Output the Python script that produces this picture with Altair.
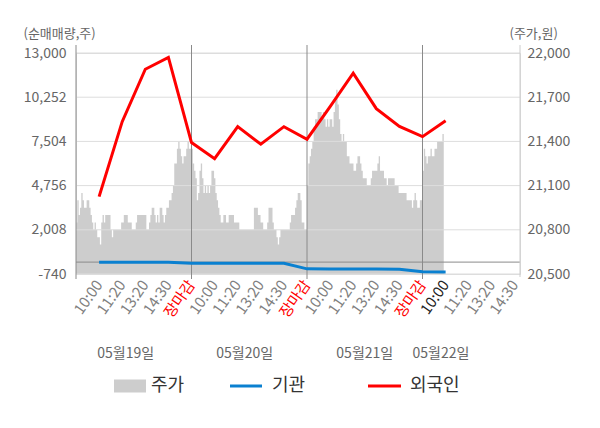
import altair as alt
import pandas as pd

# ---------------- data ----------------
TICK_LABELS = ["10:00", "11:20", "13:20", "14:30", "장마감"]
N_TICKS = 19
CURRENT_TICK = 16
DATES = ["05월19일", "05월20일", "05월21일", "05월22일"]
DATE_POS = [2.15, 7.3, 12.5, 15.8]
LEFT_TICKS = [-740, 2008, 4756, 7504, 10252, 13000]
RIGHT_TICKS = [20500, 20800, 21100, 21400, 21700, 22000]
DAY_BOUNDS = [0, 5, 10, 15]
LEGEND_LABELS = ["주가", "기관", "외국인"]

# 외국인 / 기관 net volume at each tick (10:00 ... 장마감 per day)
FOREIGN = [4070, 8730, 11990, 12730, 7430, 6430, 8420, 7330, 8420, 7640,
           9660, 11740, 9540, 8440, 7800, 8790]
INSTITUTION = [-10, -10, -10, -10, -75, -75, -75, -75, -75, -420,
               -430, -430, -430, -440, -600, -610]

# 주가 intraday samples per day
PRICE_D1 = [20850, 21000, 20900, 20950, 21050, 21000, 20950, 20950, 21000, 21000,
            20950, 20900, 20850, 20800, 20850, 20800, 20750, 20750, 20700, 20850,
            20900, 20850, 20900, 20900, 20900, 20900, 20800, 20750, 20800, 20800,
            20800, 20800, 20800, 20800, 20850, 20850, 20900, 20900, 20900, 20850,
            20850, 20850, 20800, 20800, 20800, 20850, 20900, 20900, 20900, 20900,
            20900, 20900, 20900, 20800, 20800, 20850, 20900, 20950, 20950, 20900,
            20850, 20900, 20850, 20950, 20950, 20900, 20850, 20900, 20950, 20950,
            21000, 21000, 21050, 21100, 21250, 21250, 21350, 21400, 21350, 21300,
            21250, 21300, 21300, 21350, 21400, 21350]
PRICE_D2 = [21350, 21250, 21200, 21150, 21000, 21050, 21200, 21250, 21150, 21050,
            21100, 21050, 21100, 21050, 21100, 21200, 21200, 21150, 21050, 21000,
            20950, 20900, 20850, 20850, 20900, 20900, 20850, 20850, 20900, 20900,
            20900, 20900, 20850, 20850, 20850, 20850, 20800, 20800, 20800, 20800,
            20800, 20800, 20800, 20800, 20800, 20800, 20800, 20950, 20950, 20950,
            20900, 20900, 20850, 20850, 20800, 20800, 20800, 20850, 20950, 20950,
            20950, 20850, 20800, 20800, 20750, 20700, 20750, 20800, 20800, 20800,
            20800, 20800, 20800, 20800, 20850, 20900, 20900, 20900, 20950, 21000,
            21050, 21050, 21000, 20850, 20850, 20800, 20800]
PRICE_D3 = [21100, 21250, 21300, 21350, 21400, 21500, 21550, 21550, 21600, 21600,
            21600, 21550, 21600, 21550, 21500, 21550, 21500, 21550, 21550, 21500,
            21600, 21700, 21750, 21650, 21550, 21450, 21400, 21450, 21400, 21400,
            21300, 21300, 21250, 21250, 21250, 21200, 21200, 21250, 21300, 21300,
            21250, 21200, 21150, 21150, 21150, 21100, 21100, 21100, 21150, 21200,
            21200, 21200, 21200, 21250, 21300, 21200, 21200, 21200, 21150, 21150,
            21100, 21150, 21150, 21150, 21150, 21150, 21100, 21100, 21100, 21050,
            21050, 21050, 21050, 21050, 21050, 21000, 21000, 21000, 21000, 20950,
            21000, 21050, 21000, 20950, 20950, 21000, 21000]
PRICE_D4 = [21200, 21350, 21300, 21250, 21300, 21300, 21350, 21300, 21300, 21350,
            21350, 21400, 21400, 21400, 21400, 21450, 21450]

SLOTS_PER_DAY = 5
SAMPLES_PER_DAY = 87
X_MAX = 19.22

# ---------------- tables ----------------
rows = []
for d, arr in enumerate([PRICE_D1, PRICE_D2, PRICE_D3, PRICE_D4]):
    for i, p in enumerate(arr):
        rows.append({"u": d * SLOTS_PER_DAY + i * SLOTS_PER_DAY / SAMPLES_PER_DAY,
                     "price": p, "base": RIGHT_TICKS[0]})
price_df = pd.DataFrame(rows)

lines_df = pd.DataFrame({
    "k": list(range(1, len(FOREIGN) + 1)),
    "foreign": FOREIGN,
    "inst": INSTITUTION,
})
grid_df = pd.DataFrame({"v": LEFT_TICKS})
bound_df = pd.DataFrame({"b": DAY_BOUNDS})
date_df = pd.DataFrame({"pos": DATE_POS, "date": DATES})
zero_df = pd.DataFrame({"z": [0]})
edge_df = pd.DataFrame({"e": [X_MAX]})
one = pd.DataFrame({"a": [0]})

tick_rows = []
for k in range(1, N_TICKS + 1):
    if k % SLOTS_PER_DAY == 0:
        col = "#ff0000"
    elif k == CURRENT_TICK:
        col = "#222222"
    else:
        col = "#808080"
    tick_rows.append({"k": k, "lab": TICK_LABELS[(k - 1) % SLOTS_PER_DAY], "col": col})
tick_df = pd.DataFrame(tick_rows)

W, H = 444, 221
FONT = "Noto Sans CJK KR"
xs = alt.Scale(domain=[0, X_MAX], nice=False, zero=False)
ys_left = alt.Scale(domain=[LEFT_TICKS[0], LEFT_TICKS[-1]], nice=False, zero=False)
ys_right = alt.Scale(domain=[RIGHT_TICKS[0], RIGHT_TICKS[-1]], nice=False, zero=False)

# ---------------- right (price) layer ----------------
area = alt.Chart(price_df).mark_area(color="#cdcdcd", interpolate="step-after").encode(
    x=alt.X("u:Q", scale=xs, axis=None),
    y=alt.Y("price:Q", scale=ys_right, axis=alt.Axis(
        orient="right", values=RIGHT_TICKS, format=",d", grid=False, ticks=False, domain=False,
        labelPadding=7, labelFontSize=14, labelColor="#666666", labelFont=FONT,
        title="(주가,원)", titleAngle=0, titleAlign="left", titleBaseline="middle",
        titleX=-11, titleY=-20, titleFontSize=13, titleColor="#666666",
        titleFontWeight="normal", titleFont=FONT)),
    y2="base:Q",
)

# ---------------- left layers ----------------
grid = alt.Chart(grid_df).mark_rule(color="#dddddd", strokeWidth=1).encode(
    y=alt.Y("v:Q", scale=ys_left, axis=alt.Axis(
        orient="left", values=LEFT_TICKS, format=",d", grid=False, ticks=False, domain=False,
        labelPadding=10, labelFontSize=14, labelColor="#666666", labelFont=FONT,
        labelExpr="replace(datum.label, '\u2212', '-')",
        title="(순매매량,주)", titleAngle=0, titleAlign="left", titleBaseline="middle",
        titleX=-53, titleY=-20, titleFontSize=13, titleColor="#666666",
        titleFontWeight="normal", titleFont=FONT)),
)

zero_line = alt.Chart(zero_df).mark_rule(color="#8a8a8a", strokeWidth=1).encode(
    y=alt.Y("z:Q", scale=ys_left),
)

bounds = alt.Chart(bound_df).mark_rule(color="#8a8a8a", strokeWidth=1).encode(
    x=alt.X("b:Q", scale=xs, axis=None),
    y=alt.value(-8),
    y2=alt.value(H + 5),
)

right_border = alt.Chart(edge_df).mark_rule(color="#cccccc", strokeWidth=1).encode(
    x=alt.X("e:Q", scale=xs, axis=None),
    y=alt.value(-8),
    y2=alt.value(H + 3),
)

inst_line = alt.Chart(lines_df).mark_line(color="#0a80d0", strokeWidth=3).encode(
    x=alt.X("k:Q", scale=xs, axis=None),
    y=alt.Y("inst:Q", scale=ys_left),
)

foreign_line = alt.Chart(lines_df).mark_line(color="#ff0000", strokeWidth=3).encode(
    x=alt.X("k:Q", scale=xs, axis=alt.Axis(
        labels=False, ticks=False, grid=False, domain=True, domainColor="#999999",
        title=None, zindex=1)),
    y=alt.Y("foreign:Q", scale=ys_left),
)

tick_labels = alt.Chart(tick_df).mark_text(
    fontSize=15, font=FONT, align="right", baseline="middle", angle=305).encode(
    x=alt.X("k:Q", scale=xs, axis=None),
    y=alt.value(H + 8),
    text="lab:N",
    color=alt.Color("col:N", scale=None, legend=None),
)

dates = alt.Chart(date_df).mark_text(fontSize=14, color="#666666", font=FONT,
                                     align="center", baseline="middle").encode(
    x=alt.X("pos:Q", scale=xs, axis=None),
    y=alt.value(301),
    text="date:N",
)

# ---------------- legend ----------------
leg_y = 333
leg_box = alt.Chart(one).mark_rect(color="#cdcdcd").encode(
    x=alt.value(38), x2=alt.value(70), y=alt.value(leg_y - 6.5), y2=alt.value(leg_y + 6.5))
leg_blue = alt.Chart(one).mark_rule(color="#0a80d0", strokeWidth=3).encode(
    x=alt.value(154), x2=alt.value(186), y=alt.value(leg_y))
leg_red = alt.Chart(one).mark_rule(color="#ff0000", strokeWidth=3).encode(
    x=alt.value(292), x2=alt.value(325), y=alt.value(leg_y))


def leg_text(label, xpos):
    return alt.Chart(pd.DataFrame({"t": [label]})).mark_text(
        fontSize=18, color="#333333", font=FONT, align="left", baseline="middle").encode(
        x=alt.value(xpos), y=alt.value(leg_y), text="t:N")


leg_t1 = leg_text(LEGEND_LABELS[0], 75)
leg_t2 = leg_text(LEGEND_LABELS[1], 196)
leg_t3 = leg_text(LEGEND_LABELS[2], 334)

left_group = alt.layer(grid, zero_line, bounds, right_border, inst_line, foreign_line,
                       tick_labels, dates, leg_box, leg_blue, leg_red,
                       leg_t1, leg_t2, leg_t3)

chart = alt.layer(area, left_group).resolve_scale(y="independent").properties(
    width=W, height=H,
    padding={"left": 68, "top": 45, "right": 72, "bottom": 146},
    autosize="none",
).configure_view(fill="#f4f4f4", stroke=None).configure(font=FONT)

chart.save("out.html", embed_options={"renderer": "svg", "actions": False})
